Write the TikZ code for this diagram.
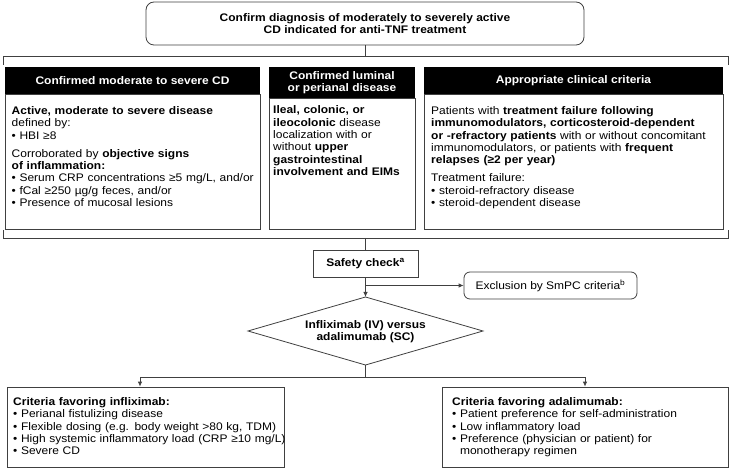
\documentclass[tikz,border=0pt]{standalone}
\usepackage{fontspec}
\setmainfont{Liberation Sans}[FakeStretch=1.09]
\usetikzlibrary{arrows.meta}
\begin{document}
\fontsize{11}{12.3}\selectfont
\begin{tikzpicture}[x=1pt,y=-1pt,
  line/.style={draw=black!75, line width=0.8pt},
  box/.style={line, fill=white, inner sep=0pt},
  head/.style={fill=black, text=white, font=\bfseries, align=center, inner sep=0pt},
  txt/.style={anchor=base west, inner sep=0pt, align=left, text width=#1},
  arr/.style={line, -{Latex[length=5pt,width=4.5pt]}}]
\useasboundingbox (0,0) rectangle (731,470);

% top box
\node[box, rounded corners=8pt, minimum width=438pt, minimum height=43pt, align=center, font=\bfseries] (top) at (365,23.5)
  {Confirm diagnosis of moderately to severely active\\CD indicated for anti-TNF treatment};

% headers
\node[head, minimum width=255pt, minimum height=27pt] (h1) at (132.5,80.5) {Confirmed moderate to severe CD};
\node[head, minimum width=146pt, minimum height=31pt] (h2) at (342,82.5) {Confirmed luminal\\or perianal disease};
\node[head, minimum width=299pt, minimum height=27pt] (h3) at (573.5,80.5) {Appropriate clinical criteria};

% bodies
\node[box, minimum width=255pt, minimum height=135pt] (b1) at (132.5,161.5) {};
\node[box, minimum width=146pt, minimum height=131pt] (b2) at (342,163.5) {};
\node[box, minimum width=299pt, minimum height=135pt] (b3) at (573.5,161.5) {};

\node[txt=300pt] (t1) at (11.5,114.5) {\textbf{Active, moderate to severe disease}\\defined by:\\• HBI ≥8\\[6pt]Corroborated by \textbf{objective signs}\\\textbf{of inflammation:}\\• Serum CRP concentrations ≥5 mg/L, and/or\\• fCal ≥250 µg/g feces, and/or\\• Presence of mucosal lesions};

\node[txt=200pt] (t2) at (273,114) {\textbf{Ileal, colonic, or}\\\textbf{ileocolonic} disease\\localization with or\\without \textbf{upper}\\\textbf{gastrointestinal}\\\textbf{involvement and EIMs}};

\node[txt=330pt] (t3) at (431,114.5) {Patients with \textbf{treatment failure following}\\\textbf{immunomodulators, corticosteroid-dependent}\\\textbf{or -refractory patients} with or without concomitant\\immunomodulators, or patients with \textbf{frequent}\\\textbf{relapses (≥2 per year)}\\[6pt]Treatment failure:\\• steroid-refractory disease\\• steroid-dependent disease};

% safety, exclusion
\node[box, minimum width=105pt, minimum height=27pt, font=\bfseries] (safe) at (365.5,263.5) {Safety check\textsuperscript{a}};
\node[box, rounded corners=6pt, minimum width=173pt, minimum height=27pt] (excl) at (550.5,285.5) {Exclusion by SmPC criteria\textsuperscript{b}};

% diamond
\coordinate (dtop) at (365.5,297);
\coordinate (dright) at (483,331);
\coordinate (dbot) at (365.5,365);
\coordinate (dleft) at (248,331);
\draw[line, fill=white] (dtop) -- (dright) -- (dbot) -- (dleft) -- cycle;
\node[font=\bfseries, align=center, inner sep=0pt] (dec) at (365.5,332) {Infliximab (IV) versus\\adalimumab (SC)};

% bottom boxes
\node[box, minimum width=277pt, minimum height=80pt] (lb) at (145.5,427) {};
\node[box, minimum width=286pt, minimum height=80pt] (rb) at (585,427) {};
\node[txt=330pt] (lt) at (13,405.5) {\textbf{Criteria favoring infliximab:}\\• Perianal fistulizing disease\\• Flexible dosing (e.g. body weight >80 kg, TDM)\\• High systemic inflammatory load (CRP ≥10 mg/L)\\• Severe CD};
\node[txt=300pt] (rt) at (452,405.5) {\textbf{Criteria favoring adalimumab:}\\• Patient preference for self-administration\\• Low inflammatory load\\• Preference (physician or patient) for\\\phantom{• }monotherapy regimen};

% connectors
\coordinate (tb) at (365,56);
\draw[line] (top.south) -- (tb);
\coordinate (tbl) at (3,65); \coordinate (tbr) at (728,65);
\draw[line] (tbl) -- (3,56) -- (728,56) -- (tbr);

\coordinate (bb) at (365.5,238);
\coordinate (bbl) at (3,230); \coordinate (bbr) at (728,230);
\draw[line] (bbl) -- (3,238) -- (728,238) -- (bbr);
\draw[line] (bb) -- (safe.north);
\draw[arr] (safe.south) -- (dtop);
\coordinate (br) at (365.5,285.5);
\draw[arr] (br) -- (excl.west);

\coordinate (split) at (365.5,377);
\coordinate (la) at (140,377);
\coordinate (ra) at (585,377);
\draw[line] (dbot) -- (split);
\draw[arr] (split) -- (la) -- (la |- lb.north);
\draw[arr] (split) -- (ra) -- (ra |- rb.north);
\end{tikzpicture}
\end{document}
